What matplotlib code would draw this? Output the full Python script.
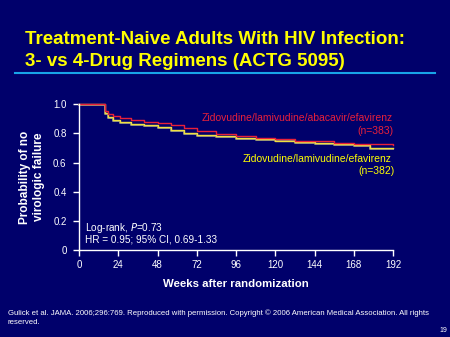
import matplotlib
matplotlib.use('Agg')
import matplotlib.pyplot as plt

# Kaplan-Meier style step data (weeks, probability of no virologic failure)
weeks_4drug = [0, 15, 16, 18, 21, 25, 32, 40, 48, 56, 64, 72, 84, 96, 108, 120, 132, 144, 156, 168, 176, 192]
surv_4drug = [1.0, 1.0, 0.95, 0.93, 0.915, 0.90, 0.89, 0.875, 0.865, 0.85, 0.83, 0.81, 0.79, 0.78, 0.765, 0.755, 0.745, 0.74, 0.73, 0.725, 0.72, 0.715]

weeks_3drug = [0, 15, 16, 18, 21, 25, 32, 40, 48, 56, 64, 72, 84, 96, 108, 120, 132, 144, 156, 168, 178, 192]
surv_3drug = [1.0, 1.0, 0.94, 0.91, 0.89, 0.875, 0.865, 0.855, 0.84, 0.82, 0.80, 0.79, 0.78, 0.77, 0.76, 0.75, 0.74, 0.735, 0.725, 0.72, 0.70, 0.70]

x_ticks = [0, 24, 48, 72, 96, 120, 144, 168, 192]
y_ticks = [0, 0.2, 0.4, 0.6, 0.8, 1.0]
y_ticklabels = ['0', '0.2', '0.4', '0.6', '0.8', '1.0']

BG = '#00006b'
YELLOW = '#ffff00'
RED = '#e8203a'

plt.rcParams['font.family'] = ['Liberation Sans', 'DejaVu Sans']

fig = plt.figure(figsize=(4.5, 3.37), dpi=100, facecolor=BG)
ax = fig.add_axes([0.1756, 0.258, 0.698, 0.433], facecolor=BG)

# gray shadow under the 3-drug curve
ax.step(weeks_3drug, [v - 0.006 for v in surv_3drug], where='post', color='#8a8a80', lw=1.4, clip_on=False)
ax.step(weeks_3drug, surv_3drug, where='post', color='#f0e040', lw=1.0, clip_on=False)
ax.step(weeks_4drug, [v + 0.004 for v in surv_4drug], where='post', color=RED, lw=1.0, clip_on=False)

ax.set_xlim(0, 192)
ax.set_ylim(0, 1.0)
ax.set_xticks(x_ticks)
ax.set_yticks(y_ticks)
ax.set_yticklabels(y_ticklabels)
for s in ['top', 'right']:
    ax.spines[s].set_visible(False)
for s in ['left', 'bottom']:
    ax.spines[s].set_color('white')
    ax.spines[s].set_linewidth(1.0)
ax.tick_params(colors='white', labelsize=7, length=4, width=1, direction='out')
ax.tick_params(axis='y', pad=5)

ax.set_ylabel('Probability of no\nvirologic failure', color='white', fontsize=8.5,
              fontweight='bold', labelpad=6)
ax.set_xlabel('Weeks after randomization', color='white', fontsize=8.2,
              fontweight='bold', labelpad=6)

ax.text(192, 0.904, 'Zidovudine/lamivudine/abacavir/efavirenz', color=RED,
        fontsize=7.5, ha='right', va='center')
ax.text(192, 0.815, '(n=383)', color=RED, fontsize=7.5, ha='right', va='center')
ax.text(191, 0.623, 'Zidovudine/lamivudine/efavirenz', color=YELLOW,
        fontsize=7.5, ha='right', va='center')
ax.text(193, 0.541, '(n=382)', color=YELLOW, fontsize=7.5, ha='right', va='center')

ax.text(3.5, 0.15, 'Log-rank, $\\mathit{P}$=0.73', color='white', fontsize=7.2, va='center')
ax.text(3.5, 0.072, 'HR = 0.95; 95% CI, 0.69-1.33', color='white', fontsize=7.2, va='center')

# title block
fig.text(25 / 450, 1 - 39 / 337, 'Treatment-Naive Adults With HIV Infection:', color=YELLOW,
         fontsize=13.5, fontweight='bold', va='center')
fig.text(25 / 450, 1 - 61 / 337, '3- vs 4-Drug Regimens (ACTG 5095)', color=YELLOW,
         fontsize=13.5, fontweight='bold', va='center')
fig.add_artist(plt.Line2D([15 / 450, 435 / 450], [1 - 72.5 / 337, 1 - 72.5 / 337],
                          color='#18a4e8', lw=1.5))

fig.text(8 / 450, 1 - 313 / 337,
         'Gulick et al. JAMA. 2006;296:769. Reproduced with permission. Copyright \u00a9 2006 American Medical Association. All rights',
         color='white', fontsize=5.6, va='center')
fig.text(8 / 450, 1 - 322 / 337, 'reserved.', color='white', fontsize=5.6, va='center')
fig.text(447 / 450, 1 - 331 / 337, '19', color='white', fontsize=5, ha='right', va='center')

fig.savefig('out.png', dpi=100, facecolor=BG)
